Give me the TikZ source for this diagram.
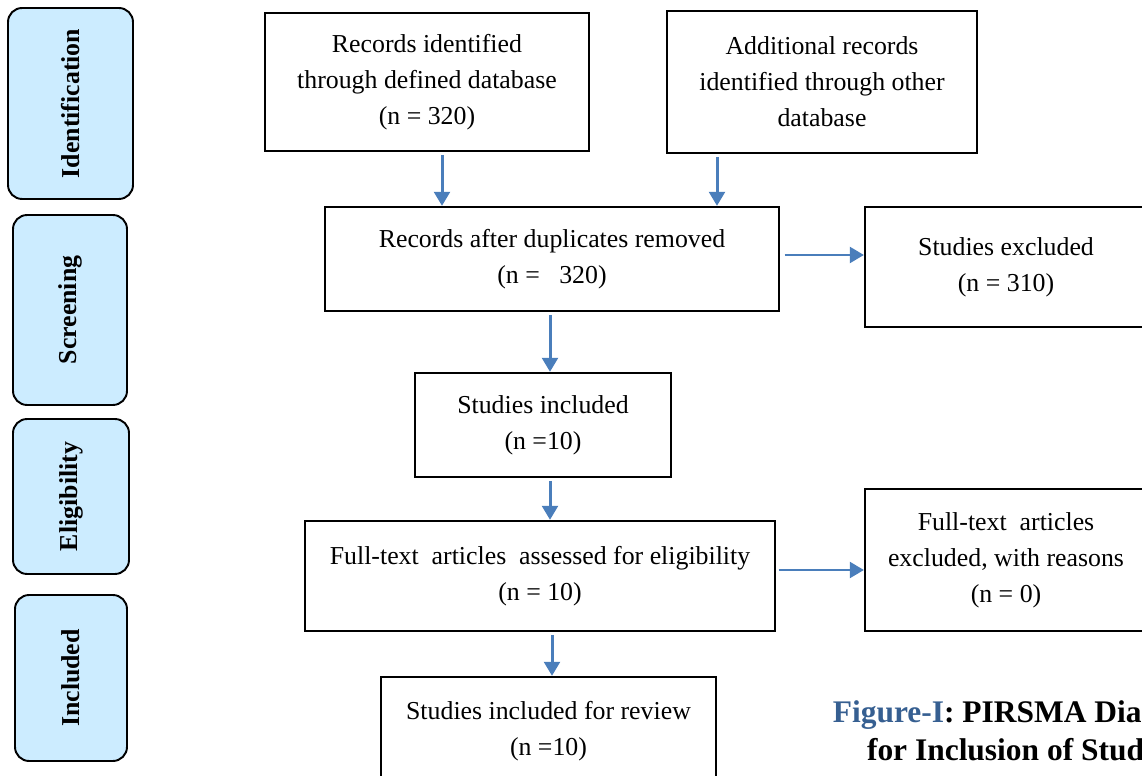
\documentclass[tikz,border=0pt]{standalone}
\usepackage{fontspec}
\setmainfont{Liberation Serif}
\usetikzlibrary{arrows.meta}
\definecolor{phaseblue}{HTML}{CCECFF}
\definecolor{arrowblue}{HTML}{4A7EBB}
\definecolor{captionblue}{HTML}{365F91}
\tikzset{
	box/.style={draw, line width=1.3pt, align=center, inner sep=0pt, font=\fontsize{14.7}{20.5}\selectfont},
	phase/.style={draw, line width=1.1pt, fill=phaseblue, rounded corners=8pt, inner sep=0pt, font=\fontsize{14.7}{18}\selectfont\bfseries},
	flow/.style={draw=arrowblue, line width=1.7pt, -{Triangle[length=8pt,width=9pt]}, shorten <=1.5pt}
}

\begin{document}
\begin{tikzpicture}[x=0.02cm, y=-0.02cm]
			%%%%% START %%%%%
			\useasboundingbox (0, 0) rectangle (1142, 776);
			
			\node[phase, minimum width=2.5cm, minimum height=3.82cm] (ident) at (70.5, 103.5) {\rotatebox{90}{Identification}};
			\node[phase, minimum width=2.28cm, minimum height=3.8cm] (screen) at (70, 310) {\rotatebox{90}{Screening}};
			\node[phase, minimum width=2.32cm, minimum height=3.1cm] (elig) at (71, 496.5) {\rotatebox{90}{Eligibility}};
			\node[phase, minimum width=2.24cm, minimum height=3.32cm] (incl) at (71, 678) {\rotatebox{90}{Included}};
			
			\node[box, minimum width=6.48cm, minimum height=2.76cm] (recs) at (427, 82) {Records identified\\through defined database\\(n = 320)};
			\node[box, minimum width=6.2cm, minimum height=2.84cm] (addrecs) at (822, 82) {Additional records\\identified through other\\database};
			\node[box, minimum width=9.08cm, minimum height=2.08cm] (dups) at (552, 259) {Records after duplicates removed\\(n =\ \ \ 320)};
			\node[box, minimum width=5.64cm, minimum height=2.4cm] (excl) at (1006, 267) {Studies excluded\\(n = 310)};
			\node[box, minimum width=5.12cm, minimum height=2.08cm] (incla) at (543, 425) {Studies included\\(n =10)};
			\node[box, minimum width=9.4cm, minimum height=2.2cm] (fulltext) at (540, 576) {Full-text\ \ articles\ \ assessed for eligibility\\(n = 10)};
			\node[box, minimum width=5.64cm, minimum height=2.84cm] (fullexcl) at (1006, 560) {Full-text\ \ articles\\excluded,\ with reasons\\(n = 0)};
			\node[box, minimum width=6.7cm, minimum height=2.16cm] (review) at (548.5, 731) {Studies included for review\\(n =10)};
			
			\node[font=\fontsize{17.9}{21.5}\selectfont\bfseries, align=center] (caption) at (1023, 731) {\textcolor{captionblue}{Figure-I}: PIRSMA Diagram\\for Inclusion of Studies};
			
			% arrows
			\coordinate (va) at (442, 0);
			\coordinate (vb) at (717, 0);
			\coordinate (vc) at (550, 0);
			\coordinate (vd) at (552, 0);
			\coordinate (ha) at (0, 255);
			\coordinate (hb) at (0, 570);
			\draw[flow] (recs.south -| va) -- (dups.north -| va);
			\draw[flow] (addrecs.south -| vb) -- (dups.north -| vb);
			\draw[flow] (dups.south -| vc) -- (incla.north -| vc);
			\draw[flow] (incla.south -| vc) -- (fulltext.north -| vc);
			\draw[flow] (fulltext.south -| vd) -- (review.north -| vd);
			\draw[flow, shorten <=2.5pt] (dups.east |- ha) -- (excl.west |- ha);
			\draw[flow] (fulltext.east |- hb) -- (fullexcl.west |- hb);
			%%%%% END %%%%%
\end{tikzpicture}
\end{document}
